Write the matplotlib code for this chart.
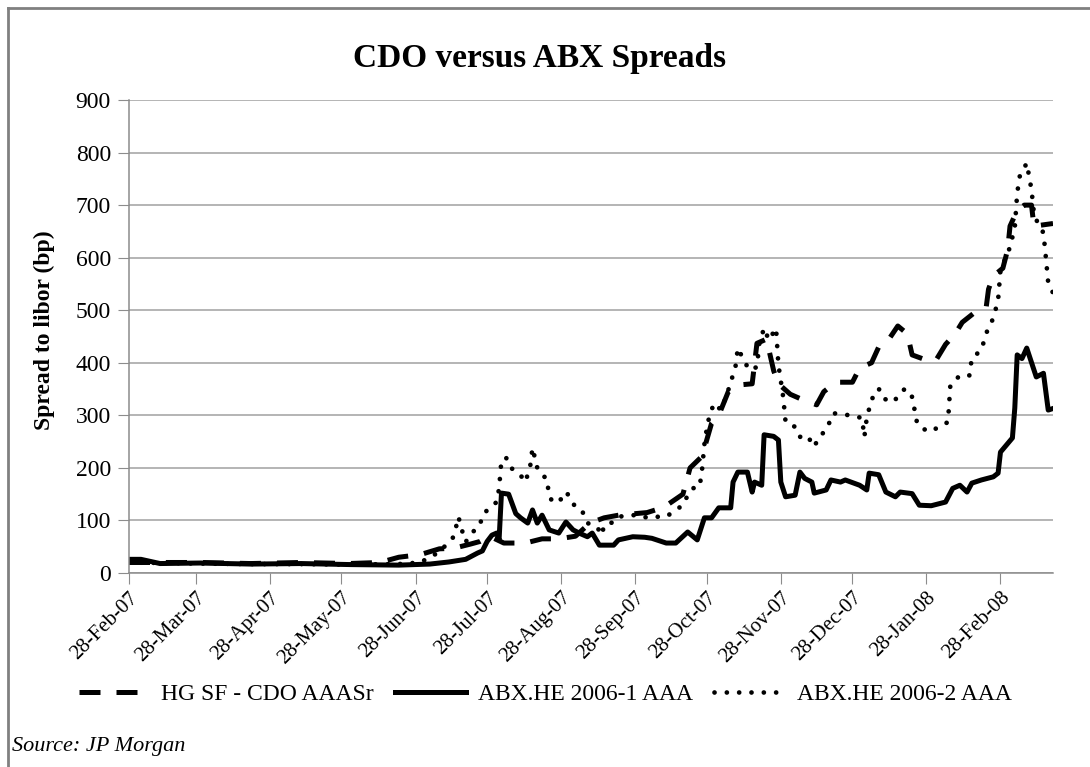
import numpy as np
import matplotlib
matplotlib.use("Agg")
import matplotlib.pyplot as plt
import matplotlib.dates as mdates
from matplotlib.lines import Line2D

plt.rcParams['font.family'] = ['Liberation Serif', 'DejaVu Serif']

# days after 28-Feb-07, spread to libor in bp
start_date = '2007-02-28'
end_day = 387

cdo_days = [0, 30, 51, 72, 92, 105, 113, 122, 130, 136,
            143, 147, 151, 157, 166, 173, 180, 187, 193, 199,
            205, 217, 224, 232, 235, 240, 244, 247, 251, 256,
            261, 263, 267, 270, 272, 277, 282, 288, 291, 296,
            303, 306, 311, 314, 318, 322, 326, 328, 334, 338,
            342, 346, 349, 354, 359, 360, 362, 366, 368, 369,
            372, 375, 378, 379, 387]
cdo_bp = [20, 20, 18, 20, 18, 20, 30, 35, 46, 47,
          55, 60, 70, 57, 57, 65, 65, 70, 95, 105,
          110, 115, 125, 150, 200, 222, 285, 300, 345, 358,
          360, 437, 445, 385, 360, 340, 330, 320, 345, 363,
          363, 390, 400, 430, 443, 470, 455, 415, 405, 405,
          435, 455, 477, 495, 505, 540, 565, 580, 615, 660,
          690, 700, 700, 660, 665]

abx1_days = [0, 5, 9, 13, 30, 51, 72, 93, 113, 126,
             134, 141, 146, 148, 150, 152, 154, 155, 156, 159,
             162, 164, 167, 169, 171, 173, 176, 180, 183, 186,
             189, 192, 194, 197, 203, 205, 211, 216, 219, 225,
             229, 234, 238, 241, 244, 247, 252, 253, 255, 259,
             261, 262, 265, 266, 270, 272, 273, 275, 279, 281,
             283, 286, 287, 292, 294, 298, 300, 306, 309, 310,
             314, 317, 321, 323, 328, 331, 336, 342, 345, 348,
             351, 353, 357, 362, 364, 365, 370, 371, 372, 374,
             376, 380, 383, 385, 387]
abx1_bp = [26, 26, 22, 18, 19, 17, 18, 16, 15, 17,
           21, 26, 38, 42, 60, 72, 76, 63, 152, 150,
           113, 105, 95, 120, 95, 110, 82, 76, 97, 82,
           75, 69, 76, 53, 53, 63, 69, 68, 66, 57,
           57, 78, 63, 105, 105, 124, 124, 173, 192, 192,
           154, 173, 167, 263, 260, 253, 173, 145, 148, 192,
           180, 173, 152, 158, 177, 173, 177, 167, 158, 190,
           187, 154, 145, 154, 151, 129, 128, 135, 161, 167,
           154, 171, 177, 183, 190, 230, 257, 314, 415, 408,
           428, 373, 380, 310, 313]

abx2_days = [0, 30, 51, 72, 92, 113, 122, 130, 136, 138,
             139, 141, 144, 147, 148, 151, 154, 155, 156, 158,
             159, 161, 164, 166, 168, 169, 171, 173, 175, 176,
             178, 182, 183, 185, 187, 190, 192, 196, 198, 199,
             203, 205, 210, 214, 217, 221, 225, 229, 232, 234,
             236, 239, 240, 241, 242, 243, 245, 248, 251, 254,
             255, 258, 260, 263, 264, 266, 268, 271, 272, 274,
             275, 279, 281, 284, 287, 289, 292, 295, 302, 307,
             308, 309, 311, 314, 316, 320, 325, 328, 330, 332,
             336, 339, 343, 344, 348, 352, 353, 357, 359, 362,
             364, 365, 369, 371, 372, 373, 376, 378, 379, 380,
             383, 384, 385, 387]
abx2_bp = [20, 18, 17, 17, 16, 17, 20, 40, 69, 107,
           88, 59, 78, 91, 110, 124, 135, 161, 215, 219,
           205, 196, 186, 173, 202, 238, 200, 186, 180, 145,
           133, 143, 154, 143, 124, 116, 95, 88, 72, 91,
           97, 107, 110, 110, 105, 107, 107, 120, 129, 148,
           161, 164, 196, 245, 275, 297, 323, 310, 348, 392,
           428, 400, 386, 392, 437, 466, 443, 466, 396, 335,
           287, 278, 259, 262, 240, 259, 272, 304, 300, 295,
           259, 295, 330, 351, 332, 325, 351, 335, 287, 275,
           269, 278, 287, 357, 376, 376, 409, 424, 456, 485,
           519, 576, 620, 658, 722, 754, 780, 729, 685, 672,
           647, 601, 552, 533]

labels = ['HG SF - CDO AAASr', 'ABX.HE 2006-1 AAA', 'ABX.HE 2006-2 AAA']


def to_dates(days):
    return np.datetime64(start_date) + np.array(days).astype('timedelta64[D]')


W, H = 1090, 767
fig = plt.figure(figsize=(W / 100, H / 100), dpi=100)
ax = fig.add_axes([129 / W, 1 - 573 / H, (1053 - 129) / W, (573 - 100) / H])

grey = '#8c8c8c'
l1, = ax.plot(to_dates(cdo_days), cdo_bp, color='black', lw=3.6,
              linestyle=(0, (4.2, 3.2)), dash_capstyle='butt')
l2, = ax.plot(to_dates(abx1_days), abx1_bp, color='black', lw=3.6,
              solid_joinstyle='round')
l3, = ax.plot(to_dates(abx2_days), abx2_bp, color='black', lw=3.4,
              linestyle=(0, (0.01, 2.6)), dash_capstyle='round')

ax.set_ylim(0, 900)
ax.set_yticks(np.arange(0, 901, 100))
ax.set_xlim(to_dates([0])[0], to_dates([end_day])[0])
ax.xaxis.set_major_locator(mdates.MonthLocator(bymonthday=28))
ax.xaxis.set_major_formatter(mdates.DateFormatter('%d-%b-%y'))

ax.grid(axis='y', color='#a0a0a0', lw=1.1)
ax.set_axisbelow(True)
for s in ['top', 'right']:
    ax.spines[s].set_visible(False)
for s in ['left', 'bottom']:
    ax.spines[s].set_color(grey)
    ax.spines[s].set_linewidth(1.1)

ax.tick_params(axis='y', length=8, color=grey, labelsize=17, pad=5)
ax.tick_params(axis='x', length=8, color=grey, labelsize=15, pad=3)
for lab in ax.get_xticklabels():
    lab.set_rotation(45)
    lab.set_ha('right')
    lab.set_va('top')
    lab.set_rotation_mode('anchor')

fig.text(540 / W, 1 - 58 / H, 'CDO versus ABX Spreads', ha='center', va='center',
         fontsize=24, fontweight='bold')
fig.text(44 / W, 1 - 330 / H, 'Spread to libor (bp)', ha='center', va='center',
         rotation=90, fontsize=17, fontweight='bold')

fig.legend([l1, l2, l3], labels, loc='center', bbox_to_anchor=(545 / W, 1 - 694 / H),
           ncol=3, frameon=False, fontsize=17, handlelength=3.0,
           handletextpad=0.5, columnspacing=0.9)

fig.text(12 / W, 1 - 747 / H, 'Source: JP Morgan', ha='left', va='center',
         fontsize=16, style='italic')

# border (top and left edge only, as in the original crop)
fig.add_artist(Line2D([8 / W, 1], [1 - 8 / H, 1 - 8 / H], transform=fig.transFigure,
                      color='#808080', lw=2))
fig.add_artist(Line2D([8 / W, 8 / W], [1 - 8 / H, 0], transform=fig.transFigure,
                      color='#808080', lw=2))

fig.savefig('out.png', dpi=100)
